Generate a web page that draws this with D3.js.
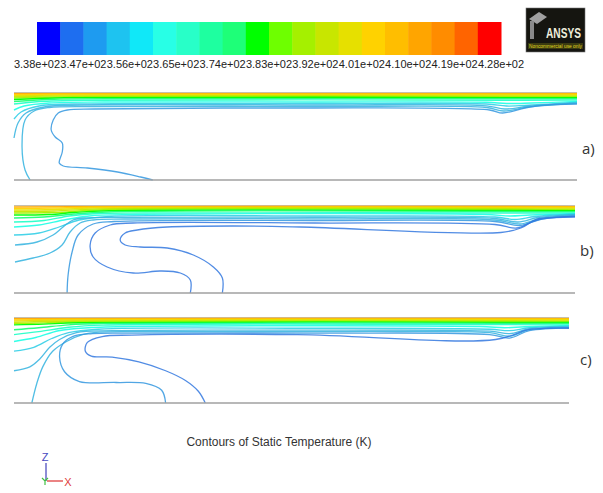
<!DOCTYPE html>
<html>
<head>
<meta charset="utf-8">
<script src="https://cdnjs.cloudflare.com/ajax/libs/d3/7.8.5/d3.min.js"></script>
<style>
  body { margin: 0; background: #fff; }
  svg text { font-family: "Liberation Sans", Arial, sans-serif; }
</style>
</head>
<body>
<svg id="chart" width="603" height="493"></svg>
<script>
// legend colour map, 20 bands from blue to red
var palette = ["#0000ff", "#1e6ef0", "#1e9bf0", "#1ec3f0", "#10e8f8", "#28ffe6", "#28ffc8", "#1effa0",
               "#1eff78", "#00ff00", "#6eff00", "#a5f000", "#c8e600", "#e6e000", "#ffd200", "#ffbe00",
               "#ffa500", "#ff8c00", "#ff6400", "#ff0000"];
var tempTicks = [338, 347, 356, 365, 374, 383, 392, 401, 410, 419, 428];
var tickLabels = ["3.38e+02", "3.47e+02", "3.56e+02", "3.65e+02", "3.74e+02", "3.83e+02",
                  "3.92e+02", "4.01e+02", "4.10e+02", "4.19e+02", "4.28e+02"];
var panelNames = ["a)", "b)", "c)"];

// contour lines: [temperature (K), [[x along duct, depth], ...]]  x: 0..560, depth: 0..87
var contoursA = [
  [412, [[0, 0.6], [560, 0.6]]],
  [404, [[0, 1.6], [40, 1.3], [560, 1.3]]],
  [398, [[0, 2.6], [50, 2.1], [560, 2.1]]],
  [394, [[0, 3.7], [60, 2.9], [560, 2.9]]],
  [389, [[0, 5], [60, 3.8], [560, 3.8]]],
  [382, [[0, 6.5], [50, 4.8], [560, 4.8]]],
  [376, [[0, 8.5], [40, 6.2], [90, 5.8], [560, 5.8]]],
  [368, [[0, 11], [25, 8.5], [70, 7.2], [500, 7.2], [560, 7]]],
  [363, [[0, 17], [10, 13], [35, 10], [90, 9], [300, 9], [470, 9.3], [490, 10.5], [515, 10], [560, 8.5]]],
  [358, [[0, 26], [7, 19], [25, 13], [60, 11], [300, 10.5], [470, 11], [490, 13], [515, 12], [560, 9.2]]],
  [355, [[0, 45], [4, 30], [12, 20], [30, 14], [70, 12], [300, 12], [470, 12.8], [488, 16], [513, 13], [560, 9.8]]],
  [352, [[16, 87], [11, 77], [8, 54], [11, 27], [20, 18], [35, 14.5], [80, 13.5], [300, 13.5], [470, 14.5],
         [487, 18], [512, 14], [560, 10.4]]],
  [348, [[138, 87], [126, 84], [103, 79], [73, 75], [49, 73], [45, 70], [48, 59], [48, 50], [41, 44], [37, 37],
         [39, 27], [44, 20], [53, 17], [80, 16], [286, 15], [473, 17], [486, 20], [513, 14], [539, 11.5], [560, 11]]]
];

var contoursB = [
  [412, [[0, 1], [60, 0.6], [560, 0.6]]],
  [404, [[0, 2.5], [40, 2], [80, 1.3], [560, 1.3]]],
  [398, [[0, 4], [40, 3.5], [80, 2.1], [560, 2.1]]],
  [394, [[0, 5.5], [40, 5], [85, 2.9], [560, 2.9]]],
  [389, [[0, 7], [40, 6.5], [90, 3.8], [560, 3.8]]],
  [382, [[0, 9], [35, 8.5], [60, 6.5], [95, 4.8], [560, 4.8]]],
  [376, [[0, 12], [30, 11], [60, 8], [100, 5.8], [560, 5.8]]],
  [368, [[0, 16], [30, 14.5], [55, 10], [80, 7.8], [130, 7], [560, 7]]],
  [363, [[0, 21], [25, 19], [50, 14], [75, 10], [120, 8.5], [470, 8.5], [495, 10], [515, 9], [560, 7.5]]],
  [358, [[0, 29], [25, 27], [45, 21], [65, 14], [95, 10.5], [300, 10], [480, 11], [500, 13.5], [520, 10.5], [560, 8]]],
  [355, [[1, 39], [23, 36], [39, 29], [49, 21], [59, 14], [73, 11.8], [110, 11.3], [300, 11.3], [480, 12.5],
         [503, 16], [523, 11.5], [560, 8.6]]],
  [352, [[1, 56], [19, 52], [36, 47], [48, 39], [56, 26], [66, 17], [79, 14], [110, 13], [300, 12.8], [480, 14],
         [505, 18], [525, 12.5], [560, 9.2]]],
  [349, [[53, 87], [54, 69], [58, 46], [64, 29], [79, 18], [100, 15.5], [300, 14.5], [480, 15.5], [505, 19.5],
         [527, 13], [560, 9.8]]],
  [346, [[176, 87], [176, 74], [166, 67], [146, 65], [119, 67], [93, 61], [79, 51], [76, 39], [81, 27], [96, 19],
         [119, 17], [300, 17], [480, 18.5], [502, 22], [522, 14], [560, 10.4]]],
  [343, [[208, 87], [208, 72], [199, 61], [179, 49], [153, 42], [126, 41], [111, 39], [106, 34], [111, 27],
         [123, 24], [153, 21], [219, 20], [286, 21], [486, 26.5], [506, 22], [522, 13], [540, 11.5], [560, 11]]]
];

var contoursC = [
  [412, [[0, 0.8], [50, 0.6], [560, 0.6]]],
  [404, [[0, 2], [50, 1.4], [560, 1.3]]],
  [398, [[0, 3.2], [50, 2.2], [560, 2.1]]],
  [394, [[0, 4.5], [55, 3], [560, 2.9]]],
  [389, [[0, 5.8], [30, 5], [60, 3.8], [560, 3.7]]],
  [382, [[0, 7], [30, 6.3], [65, 4.8], [560, 4.6]]],
  [376, [[0, 12], [25, 10], [55, 7], [90, 5.7], [560, 5.6]]],
  [368, [[0, 17], [25, 14], [55, 9.5], [90, 7.3], [560, 7]]],
  [363, [[0, 24], [22, 20], [45, 13], [75, 10], [120, 8.7], [470, 8.7], [495, 10], [515, 9], [560, 7.5]]],
  [358, [[0, 34], [20, 30], [38, 21], [55, 15], [85, 11.5], [300, 10.5], [480, 11.5], [500, 13], [520, 10], [560, 8.3]]],
  [355, [[0, 54], [16, 50], [26, 42], [36, 30], [46, 22], [63, 15], [100, 13], [300, 12.5], [480, 13.5], [500, 16],
         [520, 11], [560, 9]]],
  [352, [[18, 87], [23, 67], [29, 50], [39, 34], [53, 24], [69, 17], [86, 14.5], [130, 14], [300, 14], [480, 15],
         [500, 18.5], [520, 12], [560, 9.5]]],
  [349, [[153, 87], [149, 74], [133, 67], [103, 66], [66, 65], [51, 55], [46, 40], [49, 27], [59, 19], [79, 16],
         [120, 15.5], [300, 15.5], [480, 17], [500, 20.5], [520, 13], [560, 10]]],
  [346, [[193, 87], [186, 75], [173, 64], [153, 54], [126, 45], [99, 40], [78, 39], [72, 34], [74, 25], [89, 19],
         [119, 17.5], [286, 17], [486, 22], [519, 12], [541, 10.5], [560, 10.5]]]
];

var svg = d3.select("#chart");

// colour scale for temperature
var tmin = tempTicks[0], tmax = tempTicks[tempTicks.length - 1];
var color = d3.scaleQuantize().domain([tmin, tmax]).range(palette);
// the cold contours look washed out in the picture
var lineColor = function(t) {
  return t < 360 ? d3.interpolateRgb(color(t), "#5f8fb8")(0.3) : color(t);
};

// ---- colour bar ----
var xbar = d3.scaleLinear().domain([tmin, tmax]).range([37, 501]);
var step = (tmax - tmin) / palette.length;
svg.append("g").attr("id", "colorbar")
  .selectAll("rect")
  .data(palette)
  .enter()
  .append("rect")
    .attr("x", function(d, i) { return xbar(tmin + i * step); })
    .attr("y", 22)
    .attr("width", xbar(tmin + step) - xbar(tmin) + 0.5)
    .attr("height", 33)
    .attr("fill", function(d) { return d; });

svg.append("g").attr("id", "colorbar-labels")
  .selectAll("text")
  .data(tempTicks)
  .enter()
  .append("text")
    .attr("x", function(d) { return xbar(d); })
    .attr("y", 68)
    .attr("text-anchor", "middle")
    .style("font-size", "11px")
    .style("fill", "#222")
    .text(function(d, i) { return tickLabels[i]; });

// ---- logo ----
var logo = svg.append("g").attr("transform", "translate(526,8)");
logo.append("rect").attr("width", 59).attr("height", 44).attr("fill", "#151510").attr("stroke", "#777").attr("stroke-width", 0.6);
logo.append("polygon").attr("points", "3,11 13,4 21,9 11,16").attr("fill", "#a0a0a0");
logo.append("rect").attr("x", 4).attr("y", 13).attr("width", 4).attr("height", 18).attr("fill", "#8a8a8a");
logo.append("text").attr("x", 20).attr("y", 30).attr("textLength", 35).attr("lengthAdjust", "spacingAndGlyphs")
  .style("font-size", "15px").style("font-weight", "bold").style("fill", "#eeeedd").text("ANSYS");
logo.append("rect").attr("x", 2).attr("y", 35).attr("width", 55).attr("height", 6).attr("fill", "#3a3a10");
logo.append("text").attr("x", 3).attr("y", 40).attr("textLength", 53).attr("lengthAdjust", "spacingAndGlyphs")
  .style("font-size", "5px").style("fill", "#e0d820").text("Noncommercial use only");

// ---- contour panels ----
var panels = [
  { data: contoursA, xr: [14, 577], yr: [93, 180], label: [582, 154] },
  { data: contoursB, xr: [14, 575], yr: [206, 293], label: [580, 256] },
  { data: contoursC, xr: [14, 569], yr: [318, 403], label: [580, 365] }
];

panels.forEach(function(p, k) {
  var xs = d3.scaleLinear().domain([0, 560]).range(p.xr);
  var ys = d3.scaleLinear().domain([0, 87]).range(p.yr);
  var line = d3.line()
    .x(function(d) { return xs(d[0]); })
    .y(function(d) { return ys(d[1]); })
    .curve(d3.curveCatmullRom.alpha(0.5));

  var g = svg.append("g").attr("class", "panel");

  // top wall
  g.append("line")
    .attr("x1", xs(0)).attr("x2", xs(560))
    .attr("y1", ys(0) - 0.5).attr("y2", ys(0) - 0.5)
    .attr("stroke", "#b8b098").attr("stroke-width", 0.8);

  g.selectAll("path.contour")
    .data(p.data)
    .enter()
    .append("path")
      .attr("class", "contour")
      .attr("d", function(d) { return line(d[1]); })
      .attr("fill", "none")
      .attr("stroke", function(d) { return lineColor(d[0]); })
      .attr("stroke-opacity", function(d) { return d[0] < 360 ? 0.85 : 0.95; })
      .attr("stroke-width", function(d) { return d[0] < 360 ? 1.3 : 1.4; });

  // bottom wall
  g.append("line")
    .attr("x1", xs(0)).attr("x2", xs(560))
    .attr("y1", ys(87)).attr("y2", ys(87))
    .attr("stroke", "#a0a0a0").attr("stroke-width", 1.3);

  svg.append("text")
    .attr("x", p.label[0]).attr("y", p.label[1])
    .style("font-family", "'Open Sans', sans-serif")
    .style("font-size", "15px")
    .style("fill", "#333")
    .text(panelNames[k]);
});

// ---- title ----
svg.append("text")
  .attr("x", 279).attr("y", 446)
  .attr("text-anchor", "middle")
  .style("font-size", "12px")
  .style("fill", "#333")
  .text("Contours of Static Temperature (K)");

// ---- axis triad ----
var triad = svg.append("g");
triad.append("line").attr("x1", 46).attr("x2", 46).attr("y1", 463).attr("y2", 481).attr("stroke", "#5050c0").attr("stroke-width", 1.3);
triad.append("line").attr("x1", 47).attr("x2", 63).attr("y1", 481).attr("y2", 481).attr("stroke", "#e04040").attr("stroke-width", 1.3);
triad.append("text").attr("x", 45).attr("y", 461).attr("text-anchor", "middle").style("font-size", "11px").style("fill", "#4848c0").text("Z");
triad.append("text").attr("x", 68).attr("y", 486).attr("text-anchor", "middle").style("font-size", "11px").style("fill", "#e04040").text("X");
triad.append("path").attr("d", "M42,478 L45,481 L48,478 M45,481 L45,485").attr("fill", "none").attr("stroke", "#40c040").attr("stroke-width", 1.2);
</script>
</body>
</html>
